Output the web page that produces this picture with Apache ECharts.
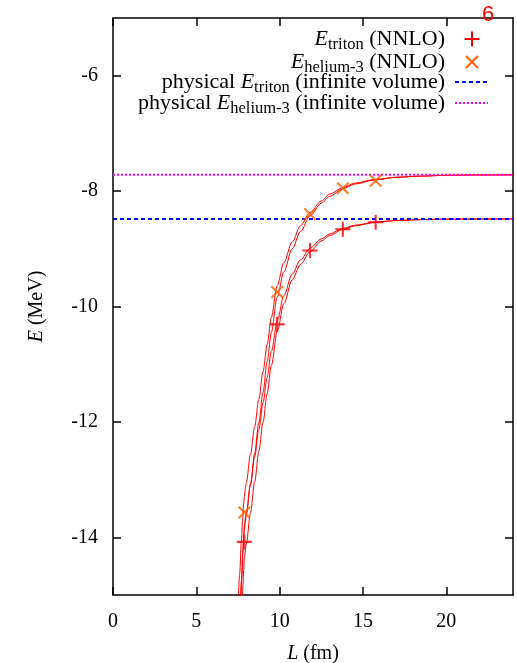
<!DOCTYPE html>
<html><head><meta charset="utf-8">
<script src="https://cdn.jsdelivr.net/npm/echarts@6/dist/echarts.min.js"></script>
<style>html,body{margin:0;padding:0;background:#fff}#c{width:517px;height:663px}</style>
</head><body><div id="c"></div>
<script>
// ---- data ----
const pointL = [7.88, 9.85, 11.82, 13.79, 15.76];
const tritonE = [-14.08, -10.31, -9.03, -8.66, -8.54];
const heliumE = [-13.57, -9.75, -8.40, -7.95, -7.82];
const physTritonE = -8.482;
const physHeliumE = -7.718;

const tritonFitL = [7.64, 7.74, 7.80, 7.84, 7.88, 8.0, 8.25, 8.5, 8.75, 9.0, 9.25, 9.5, 9.87, 10.25, 10.75, 11.25, 11.82, 12.5, 13.0, 13.79, 14.5, 15.76, 17, 18.5, 20, 22, 24];
const tritonFitA = [-15.43, -14.67, -14.22, -13.98, -13.80, -13.57, -13.09, -12.60, -12.13, -11.67, -11.23, -10.78, -10.23, -9.81, -9.44, -9.19, -8.99, -8.829, -8.742, -8.647, -8.592, -8.535, -8.509, -8.493, -8.487, -8.484, -8.482];
const tritonFitB = [-16.17, -15.33, -14.82, -14.56, -14.36, -14.11, -13.57, -13.04, -12.51, -12.01, -11.51, -11.02, -10.41, -9.95, -9.54, -9.27, -9.05, -8.865, -8.770, -8.665, -8.604, -8.541, -8.511, -8.495, -8.487, -8.484, -8.482];

const heliumFitL = [7.50, 7.60, 7.70, 7.78, 7.84, 7.88, 7.94, 8.0, 8.25, 8.5, 8.75, 9.0, 9.25, 9.5, 9.85, 10.25, 10.75, 11.25, 11.82, 12.5, 13.0, 13.79, 14.5, 15.76, 17, 18.5, 20, 22, 24];
const heliumFitA = [-15.21, -14.64, -14.08, -13.67, -13.42, -13.30, -13.16, -13.05, -12.56, -12.08, -11.61, -11.13, -10.66, -10.19, -9.64, -9.24, -8.88, -8.60, -8.37, -8.17, -8.05, -7.94, -7.862, -7.796, -7.758, -7.739, -7.726, -7.721, -7.719];
const heliumFitB = [-15.99, -15.36, -14.76, -14.29, -14.02, -13.88, -13.74, -13.61, -13.08, -12.54, -12.01, -11.49, -10.96, -10.45, -9.84, -9.40, -9.00, -8.70, -8.43, -8.21, -8.09, -7.96, -7.878, -7.804, -7.762, -7.741, -7.726, -7.721, -7.719];

const xRange = [0, 24];
const yRange = [-15, -5];
const xTicks = [0, 5, 10, 15, 20];
const yTicks = [-14, -12, -10, -8, -6];

// ---- chart ----
const SERIF = 'Liberation Serif';
const FS = 20;
const LFS = 22, SFS = 16.5;
const zip = (xs, ys) => xs.map((x, i) => [x, ys[i]]);
const plusPath = 'path://M0.43,0H0.57V0.43H1V0.57H0.57V1H0.43V0.57H0V0.43H0.43Z';
const crossPath = 'path://M0,0.11L0.11,0L0.5,0.39L0.89,0L1,0.11L0.61,0.5L1,0.89L0.89,1L0.5,0.61L0.11,1L0,0.89L0.39,0.5Z';
const RED = '#ff0000', ORANGE = '#ff5f00', BLUE = '#0000ff', MAGENTA = '#ff00ff';

const axisLine = { show: true, onZero: false, lineStyle: { color: '#000', width: 1.5 } };
function xAx(pos, main) {
  return {
    type: 'value', min: xRange[0], max: xRange[1], position: pos,
    axisLine: axisLine,
    axisTick: { show: true, inside: true, length: 8, customValues: xTicks, lineStyle: { color: '#000', width: 1.5 } },
    axisLabel: main ? { show: true, customValues: xTicks, color: '#000', fontFamily: SERIF, fontSize: FS, margin: 17 } : { show: false },
    splitLine: { show: false },
    name: main ? '{i|L} (fm)' : '', nameLocation: 'middle', nameGap: 49,
    nameTextStyle: { color: '#000', fontFamily: SERIF, fontSize: FS, rich: { i: { fontStyle: 'italic', fontFamily: SERIF, fontSize: FS, color: '#000' } } }
  };
}
function yAx(pos, main) {
  return {
    type: 'value', min: yRange[0], max: yRange[1], position: pos,
    axisLine: axisLine,
    axisTick: { show: true, inside: true, length: 8, customValues: yTicks, lineStyle: { color: '#000', width: 1.5 } },
    axisLabel: main ? { show: true, customValues: yTicks, color: '#000', fontFamily: SERIF, fontSize: FS, margin: 15 } : { show: false },
    splitLine: { show: false },
    name: main ? '{i|E} (MeV)' : '', nameLocation: 'middle', nameGap: 66, nameRotate: 90,
    nameTextStyle: { color: '#000', fontFamily: SERIF, fontSize: FS, rich: { i: { fontStyle: 'italic', fontFamily: SERIF, fontSize: FS, color: '#000' } } }
  };
}
const fitLine = (data) => ({
  type: 'line', data: data, showSymbol: false, smooth: 0.3, smoothMonotone: 'x',
  lineStyle: { color: RED, width: 1 }, itemStyle: { color: RED }, z: 2, silent: true
});

const LX = 445; // legend text right edge
const legendRows = [39, 62, 82, 103];
const txt = (y, text) => ({
  type: 'text', x: LX, y: y,
  style: {
    text: text, align: 'right', verticalAlign: 'middle', fill: '#000',
    fontFamily: SERIF, fontSize: LFS,
    rich: {
      i: { fontStyle: 'italic', fontFamily: SERIF, fontSize: LFS },
      s: { fontFamily: SERIF, fontSize: SFS, padding: [12, 0, 0, 0] }
    }
  }, z: 100
});

const option = {
  animation: false,
  backgroundColor: '#fff',
  grid: { left: 113, right: 4, top: 18, bottom: 68, containLabel: false, outerBoundsMode: 'none' },
  xAxis: [xAx('bottom', true), xAx('top', false)],
  yAxis: [yAx('left', true), yAx('right', false)],
  series: [
    fitLine(zip(heliumFitL, heliumFitA)),
    fitLine(zip(heliumFitL, heliumFitB)),
    fitLine(zip(tritonFitL, tritonFitA)),
    fitLine(zip(tritonFitL, tritonFitB)),
    { type: 'line', data: [[xRange[0], physTritonE], [xRange[1], physTritonE]], showSymbol: false,
      lineStyle: { color: BLUE, width: 2, type: [4, 3] }, z: 3, silent: true },
    { type: 'line', data: [[xRange[0], physHeliumE], [xRange[1], physHeliumE]], showSymbol: false,
      lineStyle: { color: MAGENTA, width: 2, type: [2, 2] }, z: 3, silent: true },
    { type: 'scatter', data: zip(pointL, tritonE), symbol: plusPath, symbolSize: 15,
      itemStyle: { color: RED }, z: 5, silent: true },
    { type: 'scatter', data: zip(pointL, heliumE), symbol: crossPath, symbolSize: 13,
      itemStyle: { color: ORANGE }, z: 5, silent: true }
  ],
  graphic: [
    txt(legendRows[0], '{i|E}{s|triton} (NNLO)'),
    txt(legendRows[1], '{i|E}{s|helium-3} (NNLO)'),
    txt(legendRows[2], 'physical {i|E}{s|triton} (infinite volume)'),
    txt(legendRows[3], 'physical {i|E}{s|helium-3} (infinite volume)'),
    { type: 'line', shape: { x1: 464.5, y1: legendRows[0], x2: 479.5, y2: legendRows[0] }, style: { stroke: RED, lineWidth: 2 }, z: 100 },
    { type: 'line', shape: { x1: 472, y1: legendRows[0] - 7.5, x2: 472, y2: legendRows[0] + 7.5 }, style: { stroke: RED, lineWidth: 2 }, z: 100 },
    { type: 'line', shape: { x1: 466, y1: legendRows[1] - 6, x2: 478, y2: legendRows[1] + 6 }, style: { stroke: ORANGE, lineWidth: 2 }, z: 100 },
    { type: 'line', shape: { x1: 466, y1: legendRows[1] + 6, x2: 478, y2: legendRows[1] - 6 }, style: { stroke: ORANGE, lineWidth: 2 }, z: 100 },
    { type: 'line', shape: { x1: 455, y1: legendRows[2], x2: 487, y2: legendRows[2] }, style: { stroke: BLUE, lineWidth: 2, lineDash: [4, 3] }, z: 100 },
    { type: 'line', shape: { x1: 455, y1: legendRows[3], x2: 488, y2: legendRows[3] }, style: { stroke: MAGENTA, lineWidth: 2, lineDash: [2, 2] }, z: 100 },
    { type: 'text', x: 488, y: 15, style: { text: '6', align: 'center', verticalAlign: 'middle', fill: RED, fontFamily: 'Liberation Sans', fontSize: 22 }, z: 100 }
  ]
};
const chart = echarts.init(document.getElementById('c'), null, { renderer: 'canvas' });
chart.setOption(option);
</script>
</body></html>
